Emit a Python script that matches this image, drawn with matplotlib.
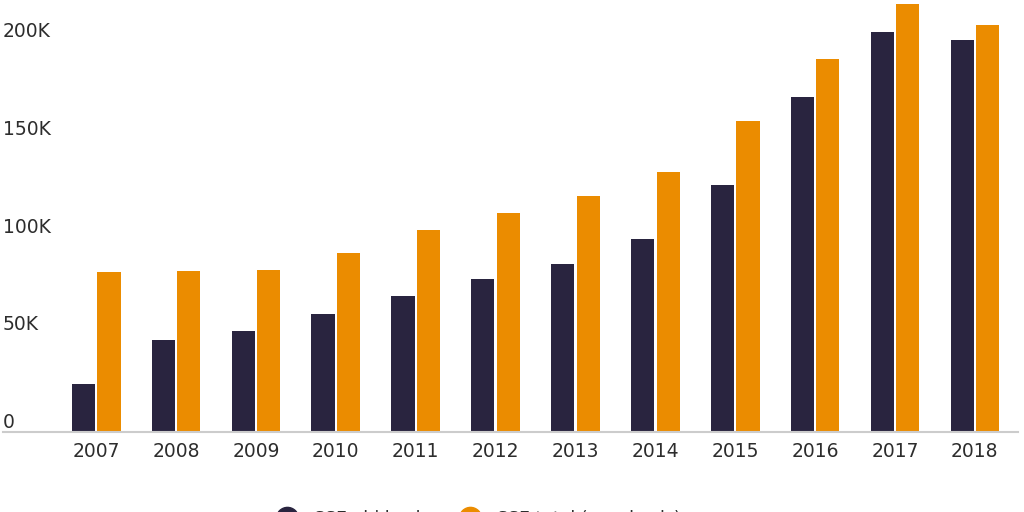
import matplotlib
matplotlib.use("Agg")
import matplotlib.pyplot as plt
import matplotlib.transforms as mtransforms
from matplotlib.lines import Line2D
import numpy as np

years = ["2007", "2008", "2009", "2010", "2011", "2012", "2013", "2014", "2015", "2016", "2017", "2018"]
series_dark = [24600, 47100, 51700, 60400, 69600, 78300, 85900, 98700, 126300, 171400, 204600, 200300]
series_orange = [81800, 82400, 82900, 91600, 103300, 112000, 120700, 133000, 159100, 190800, 218900, 208200]
series_names = ["SSE old basis", "SSE total (new basis)"]
yticks = [0, 50000, 100000, 150000, 200000]
ytick_labels = ["0", "50K", "100K", "150K", "200K"]

DARK = "#29243f"
ORANGE = "#eb8c00"
TEXT = "#2d2d2d"

plt.rcParams['font.family'] = ['DejaVu Sans']
fig = plt.figure(figsize=(10.24, 5.12), dpi=100)
W, H = 1024, 512
ax = fig.add_axes([3 / W, (H - 432) / H, (1018 - 3) / W, 432 / H])

x = np.arange(len(years))
bw = 0.29
off = 0.16
ax.bar(x - off, series_dark, width=bw, color=DARK, linewidth=0)
ax.bar(x + off, series_orange, width=bw, color=ORANGE, linewidth=0)

ax.set_xlim(-1.167, 11.54)
ax.set_ylim(0, 221000)

for s in ["top", "right", "left"]:
    ax.spines[s].set_visible(False)
ax.spines["bottom"].set_color("#cccccc")
ax.spines["bottom"].set_linewidth(1.5)

ax.set_xticks(x)
ax.set_xticklabels(years, fontsize=13.5, color=TEXT)
ax.tick_params(axis="x", length=0, pad=7)
ax.set_yticks([])

trans = mtransforms.blended_transform_factory(ax.transAxes, ax.transData)
trans = trans + mtransforms.ScaledTranslation(0, 4 / 100, fig.dpi_scale_trans)
for v, lab in zip(yticks, ytick_labels):
    ax.text(0, v, lab, transform=trans, ha="left", va="baseline", fontsize=13.5, color=TEXT)

handles = [Line2D([], [], marker="o", linestyle="none", markersize=16, markerfacecolor=c, markeredgecolor=c)
           for c in (DARK, ORANGE)]
fig.legend(handles, series_names, loc="center", bbox_to_anchor=(0.464, -0.014), ncol=2, frameon=False,
           fontsize=12.5, handletextpad=0.55, columnspacing=1.3, labelcolor=TEXT)

fig.savefig("out.png", dpi=100)
